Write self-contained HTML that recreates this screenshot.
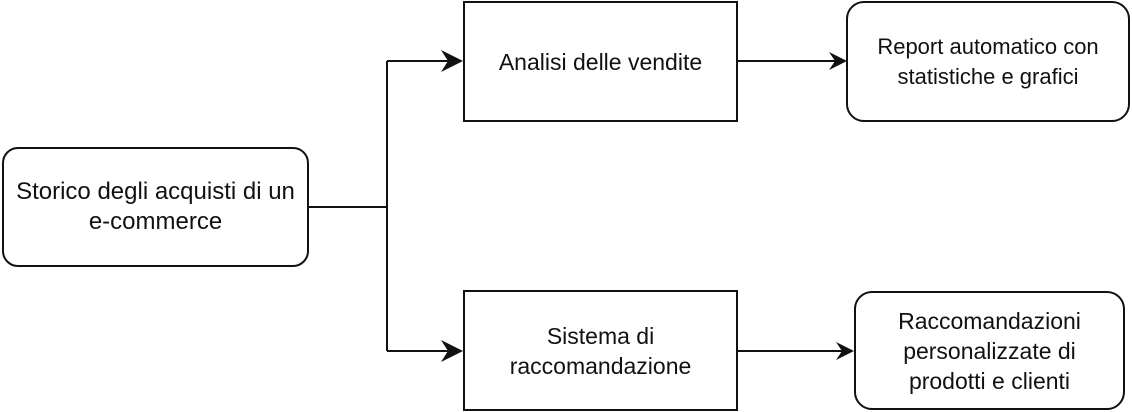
<!DOCTYPE html>
<html><head><meta charset="utf-8"><style>
html,body{margin:0;padding:0;background:#fff;width:1132px;height:412px;overflow:hidden}
.b{position:absolute;box-sizing:border-box;border:2px solid #111;background:#fff;display:flex;align-items:center;justify-content:center;text-align:center;font-family:"Liberation Sans",sans-serif;font-size:23px;line-height:30px;color:#111;white-space:nowrap}
</style></head><body>
<svg width="1132" height="412" style="position:absolute;left:0;top:0">
<g stroke="#111" stroke-width="2" fill="none">
<path d="M308 207H387M387 61V351M387 61H450M387 351H450M737 61H835M737 351H842"/>
</g>
<g fill="#111">
<path d="M463 61L441 50L448 61L441 72Z"/>
<path d="M463 351L441 340L448 351L441 362Z"/>
<path d="M847 61L829 52L835 61L829 70Z"/>
<path d="M854 351L836 342L842 351L836 360Z"/>
</g>
</svg>
<div class="b" style="left:2px;top:147px;width:307px;height:120px;border-radius:16px;font-size:24px">Storico degli acquisti di un<br>e-commerce</div>
<div class="b" style="left:463px;top:1px;width:275px;height:121px">Analisi delle vendite</div>
<div class="b" style="left:463px;top:290px;width:275px;height:121px">Sistema di<br>raccomandazione</div>
<div class="b" style="left:846px;top:1px;width:284px;height:121px;border-radius:18px;font-size:22px">Report automatico con<br>statistiche e grafici</div>
<div class="b" style="left:854px;top:291px;width:271px;height:119px;border-radius:18px">Raccomandazioni<br>personalizzate di<br>prodotti e clienti</div>
</body></html>
